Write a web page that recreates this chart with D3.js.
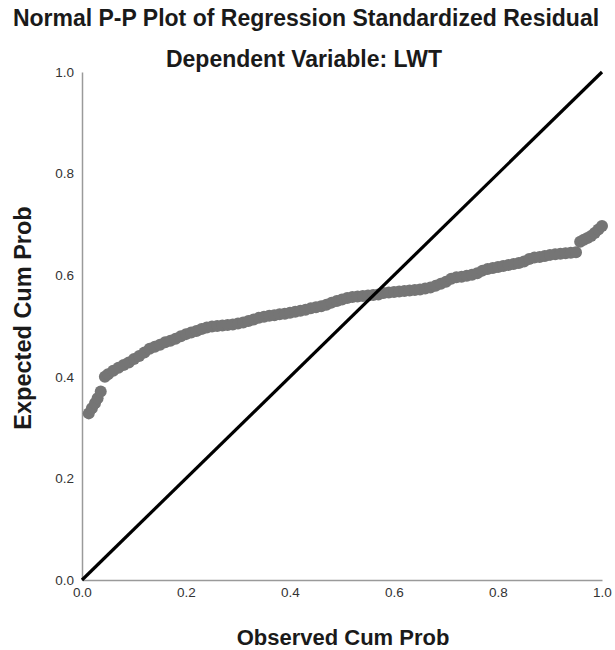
<!DOCTYPE html>
<html>
<head>
<meta charset="utf-8">
<script src="https://cdn.jsdelivr.net/npm/d3@7"></script>
<style>
  body { margin: 0; background: #fff; }
  svg { font-family: "Liberation Sans", Arial, sans-serif; }
</style>
</head>
<body>
<div class="chart"></div>
<script>
// observed vs expected cumulative probability
let observed = [0.013, 0.019, 0.025, 0.030, 0.036,
  0.044, 0.05, 0.06, 0.07, 0.08, 0.09, 0.10, 0.11, 0.12, 0.13, 0.14, 0.15, 0.16, 0.17, 0.18, 0.19,
  0.20, 0.21, 0.22, 0.23, 0.24, 0.25, 0.26, 0.27, 0.28, 0.29, 0.30, 0.31, 0.32, 0.33, 0.34, 0.35,
  0.36, 0.37, 0.38, 0.39, 0.40, 0.41, 0.42, 0.43, 0.44, 0.45, 0.46, 0.47, 0.48, 0.49, 0.50, 0.51,
  0.52, 0.53, 0.54, 0.55, 0.56, 0.57, 0.58, 0.59, 0.60, 0.61, 0.62, 0.63, 0.64, 0.65, 0.66, 0.67,
  0.68, 0.69, 0.70, 0.71, 0.72, 0.73, 0.74, 0.75, 0.76, 0.77, 0.78, 0.79, 0.80, 0.81, 0.82, 0.83,
  0.84, 0.85, 0.86, 0.87, 0.88, 0.89, 0.90, 0.91, 0.92, 0.93, 0.94, 0.95,
  0.958, 0.965, 0.972, 0.979, 0.986, 0.993, 1.000]
let expected = [0.328, 0.338, 0.348, 0.358, 0.371,
  0.400, 0.405, 0.412, 0.418, 0.423, 0.428, 0.435, 0.441, 0.448, 0.455, 0.459, 0.463, 0.468, 0.471, 0.475, 0.480,
  0.484, 0.487, 0.490, 0.494, 0.497, 0.499, 0.500, 0.501, 0.502, 0.503, 0.505, 0.507, 0.510, 0.513, 0.516, 0.518,
  0.520, 0.521, 0.523, 0.524, 0.526, 0.528, 0.530, 0.532, 0.535, 0.537, 0.539, 0.542, 0.546, 0.549, 0.552, 0.555,
  0.557, 0.558, 0.559, 0.560, 0.561, 0.562, 0.565, 0.566, 0.567, 0.568, 0.569, 0.570, 0.571, 0.572, 0.574, 0.576,
  0.579, 0.583, 0.587, 0.593, 0.596, 0.597, 0.599, 0.601, 0.604, 0.609, 0.612, 0.614, 0.616, 0.618, 0.620, 0.622,
  0.624, 0.627, 0.632, 0.635, 0.636, 0.638, 0.640, 0.641, 0.642, 0.643, 0.644, 0.645,
  0.666, 0.670, 0.673, 0.677, 0.683, 0.690, 0.697]
let tickValues = [0, 0.2, 0.4, 0.6, 0.8, 1.0]
let refLine = [[0, 0], [1, 1]]

let W = 615, H = 650
let margin = {top: 72, right: 13, bottom: 70, left: 82}
let width = W - margin.left - margin.right
let height = H - margin.top - margin.bottom

let svg = d3.select('.chart').append('svg')
  .attr('width', W)
  .attr('height', H)

let chart = svg.append('g')
  .attr('transform', 'translate(' + margin.left + ',' + margin.top + ')')

let x = d3.scaleLinear().domain([0, 1]).range([0, width])
let y = d3.scaleLinear().domain([0, 1]).range([height, 0])

let xAxis = d3.axisBottom(x).tickValues(tickValues).tickFormat(d3.format('.1f')).tickSize(0).tickPadding(7)
let yAxis = d3.axisLeft(y).tickValues(tickValues).tickFormat(d3.format('.1f')).tickSize(0).tickPadding(8)

chart.append('g')
  .attr('transform', 'translate(0,' + height + ')')
  .call(xAxis)
  .call(g => g.select('.domain').attr('stroke', '#9a9a9a').attr('stroke-width', 1.5))
  .call(g => g.selectAll('text').attr('font-size', 13.5).attr('fill', '#333').attr('font-family', null))

chart.append('g')
  .call(yAxis)
  .call(g => g.select('.domain').attr('stroke', '#9a9a9a').attr('stroke-width', 1.5))
  .call(g => g.selectAll('text').attr('font-size', 13.5).attr('fill', '#333').attr('font-family', null))

// points
chart.append('g')
  .selectAll('circle')
  .data(observed)
  .enter()
  .append('circle')
  .attr('cx', d => x(d))
  .attr('cy', (d, i) => y(expected[i]))
  .attr('r', 6)
  .attr('fill', '#757575')

// reference line
chart.append('path')
  .datum(refLine)
  .attr('d', d3.line().x(d => x(d[0])).y(d => y(d[1])))
  .attr('stroke', '#000')
  .attr('stroke-width', 3.2)
  .attr('fill', 'none')

svg.append('text')
  .attr('x', 306).attr('y', 26)
  .attr('text-anchor', 'middle')
  .attr('font-size', 23).attr('font-weight', 'bold').attr('fill', '#1a1a1a')
  .text('Normal P-P Plot of Regression Standardized Residual')

svg.append('text')
  .attr('x', 304).attr('y', 67)
  .attr('text-anchor', 'middle')
  .attr('font-size', 23).attr('font-weight', 'bold').attr('fill', '#1a1a1a')
  .text('Dependent Variable: LWT')

svg.append('text')
  .attr('x', 343).attr('y', 645)
  .attr('text-anchor', 'middle')
  .attr('font-size', 22).attr('font-weight', 'bold').attr('fill', '#1a1a1a')
  .text('Observed Cum Prob')

svg.append('text')
  .attr('transform', 'translate(31,318) rotate(-90)')
  .attr('text-anchor', 'middle')
  .attr('font-size', 23.5).attr('font-weight', 'bold').attr('fill', '#1a1a1a')
  .text('Expected Cum Prob')
</script>
</body>
</html>
